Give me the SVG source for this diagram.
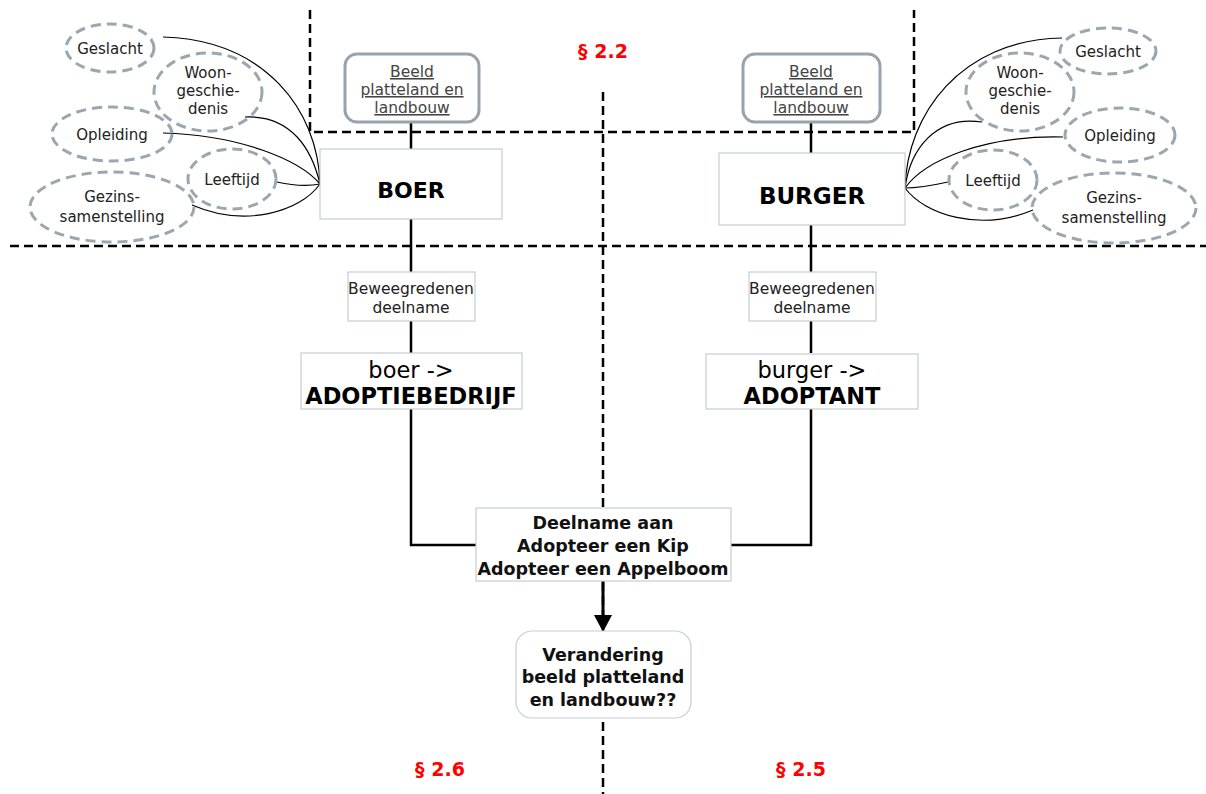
<svg xmlns="http://www.w3.org/2000/svg" width="1206" height="794" viewBox="0 0 1206 794">
<style>
.t{font-family:"DejaVu Sans",Verdana,sans-serif;fill:#222;text-anchor:middle}
.sec{font-family:"DejaVu Sans",Verdana,sans-serif;fill:#ff0000;font-weight:bold;font-size:19px;text-anchor:middle}
.dash{stroke:#000;stroke-width:2.5;stroke-dasharray:9 5;fill:none}
.ell{fill:none;stroke:#9aa7b0;stroke-width:3;stroke-dasharray:10 6}
.box{fill:#fff;stroke:#c6ced4;stroke-width:1.2}
.beeld{fill:#fff;stroke:#97a4ad;stroke-width:3}
.conn{stroke:#000;stroke-width:2.5;fill:none}
.curve{stroke:#000;stroke-width:1.2;fill:none}
</style>
<rect width="1206" height="794" fill="#fff"/>
<g id="dividers">
<path class="dash" d="M310,10 V132 H914 V10"/>
<path class="dash" d="M10,246 H1206"/>
<path class="dash" d="M603,92 V794"/>
</g>
<g id="connectors">
<path class="conn" d="M411,122 V149"/>
<path class="conn" d="M411,219 V272"/>
<path class="conn" d="M411,321 V353"/>
<path class="conn" d="M411,409 V545 H476"/>
<path class="conn" d="M811,122 V153"/>
<path class="conn" d="M811,225 V272"/>
<path class="conn" d="M811,321 V353"/>
<path class="conn" d="M811,409 V545 H731"/>
<path d="M603,581 V618" stroke="#000" stroke-width="3" fill="none"/>
<path d="M594,615 L612,615 L603,632 z" fill="#000"/>
<path class="curve" d="M163,37 C265,40 318,110 320,184"/>
<path class="curve" d="M245,117 C292,115 312,150 320,184"/>
<path class="curve" d="M163,133 C240,135 300,160 320,184"/>
<path class="curve" d="M277,182 C295,186 310,186 320,184"/>
<path class="curve" d="M192,205 C245,228 300,212 320,184"/>
<path class="curve" d="M1062,38 C960,40 907,115 905,188"/>
<path class="curve" d="M982,122 C935,115 910,150 905,188"/>
<path class="curve" d="M1063,137 C985,135 925,160 905,188"/>
<path class="curve" d="M948,182 C930,186 915,188 905,188"/>
<path class="curve" d="M1033,210 C980,232 925,215 905,188"/>
</g>
<g id="attr-left">
<g id="l-geslacht"><ellipse class="ell" cx="110" cy="48" rx="44" ry="24"/><text class="t" x="110" y="54" font-size="15">Geslacht</text></g>
<g id="l-woon"><ellipse class="ell" cx="208" cy="92" rx="54" ry="39"/><text class="t" font-size="15"><tspan x="208" y="78">Woon-</tspan><tspan x="208" y="96">geschie-</tspan><tspan x="208" y="114">denis</tspan></text></g>
<g id="l-opleiding"><ellipse class="ell" cx="112" cy="134" rx="60" ry="27"/><text class="t" x="112" y="140" font-size="15">Opleiding</text></g>
<g id="l-leeftijd"><ellipse class="ell" cx="232" cy="179" rx="44" ry="30"/><text class="t" x="232" y="185" font-size="15">Leeftijd</text></g>
<g id="l-gezins"><ellipse class="ell" cx="112" cy="207" rx="82" ry="35"/><text class="t" font-size="15"><tspan x="112" y="202">Gezins-</tspan><tspan x="112" y="222">samenstelling</tspan></text></g>
</g>
<g id="attr-right">
<g id="r-geslacht"><ellipse class="ell" cx="1108" cy="51" rx="48" ry="23"/><text class="t" x="1108" y="57" font-size="15">Geslacht</text></g>
<g id="r-woon"><ellipse class="ell" cx="1020" cy="92" rx="54" ry="39"/><text class="t" font-size="15"><tspan x="1020" y="78">Woon-</tspan><tspan x="1020" y="96">geschie-</tspan><tspan x="1020" y="114">denis</tspan></text></g>
<g id="r-opleiding"><ellipse class="ell" cx="1120" cy="135" rx="55" ry="27"/><text class="t" x="1120" y="141" font-size="15">Opleiding</text></g>
<g id="r-leeftijd"><ellipse class="ell" cx="993" cy="180" rx="44" ry="30"/><text class="t" x="993" y="186" font-size="15">Leeftijd</text></g>
<g id="r-gezins"><ellipse class="ell" cx="1114" cy="208" rx="82" ry="35"/><text class="t" font-size="15"><tspan x="1114" y="203">Gezins-</tspan><tspan x="1114" y="223">samenstelling</tspan></text></g>
</g>
<g id="beeld-left"><rect class="beeld" x="345" y="54" width="134" height="68" rx="12"/><text class="t" font-size="15.5" text-decoration="underline" style="fill:#444"><tspan x="412" y="77">Beeld</tspan><tspan x="412" y="95">platteland en</tspan><tspan x="412" y="113">landbouw</tspan></text></g>
<g id="beeld-right"><rect class="beeld" x="743" y="54" width="137" height="68" rx="12"/><text class="t" font-size="15.5" text-decoration="underline" style="fill:#444"><tspan x="811" y="77">Beeld</tspan><tspan x="811" y="95">platteland en</tspan><tspan x="811" y="113">landbouw</tspan></text></g>
<g id="boer"><rect class="box" x="320" y="149" width="182" height="70"/><text class="t" x="411" y="198" font-size="22" font-weight="bold" style="fill:#000">BOER</text></g>
<g id="burger"><rect class="box" x="719" y="153" width="186" height="72"/><text class="t" x="812" y="204" font-size="23" font-weight="bold" style="fill:#000">BURGER</text></g>
<g id="bew-left"><rect class="box" x="348" y="272" width="127" height="49"/><text class="t" font-size="15.5"><tspan x="411" y="294">Beweegredenen</tspan><tspan x="411" y="313">deelname</tspan></text></g>
<g id="bew-right"><rect class="box" x="749" y="272" width="127" height="49"/><text class="t" font-size="15.5"><tspan x="812" y="294">Beweegredenen</tspan><tspan x="812" y="313">deelname</tspan></text></g>
<g id="adoptiebedrijf"><rect class="box" x="301" y="353" width="221" height="56"/><text class="t" font-size="22.5" style="fill:#000"><tspan x="411" y="378">boer -&gt;</tspan><tspan x="411" y="404" font-weight="bold">ADOPTIEBEDRIJF</tspan></text></g>
<g id="adoptant"><rect class="box" x="706" y="354" width="212" height="55"/><text class="t" font-size="22.5" style="fill:#000"><tspan x="812" y="378">burger -&gt;</tspan><tspan x="812" y="404" font-weight="bold">ADOPTANT</tspan></text></g>
<g id="deelname"><rect class="box" x="476" y="508" width="255" height="73"/><text class="t" font-size="17.5" font-weight="bold" style="fill:#111"><tspan x="603" y="529">Deelname aan</tspan><tspan x="603" y="552">Adopteer een Kip</tspan><tspan x="603" y="575">Adopteer een Appelboom</tspan></text></g>
<g id="verandering"><rect class="box" x="516" y="631" width="175" height="87" rx="16"/><text class="t" font-size="17.5" font-weight="bold" style="fill:#111"><tspan x="603" y="661">Verandering</tspan><tspan x="603" y="683">beeld platteland</tspan><tspan x="603" y="706">en landbouw??</tspan></text></g>
<g id="labels">
<text class="sec" x="603" y="58">§ 2.2</text>
<text class="sec" x="440" y="776">§ 2.6</text>
<text class="sec" x="801" y="776">§ 2.5</text>
</g>
</svg>
